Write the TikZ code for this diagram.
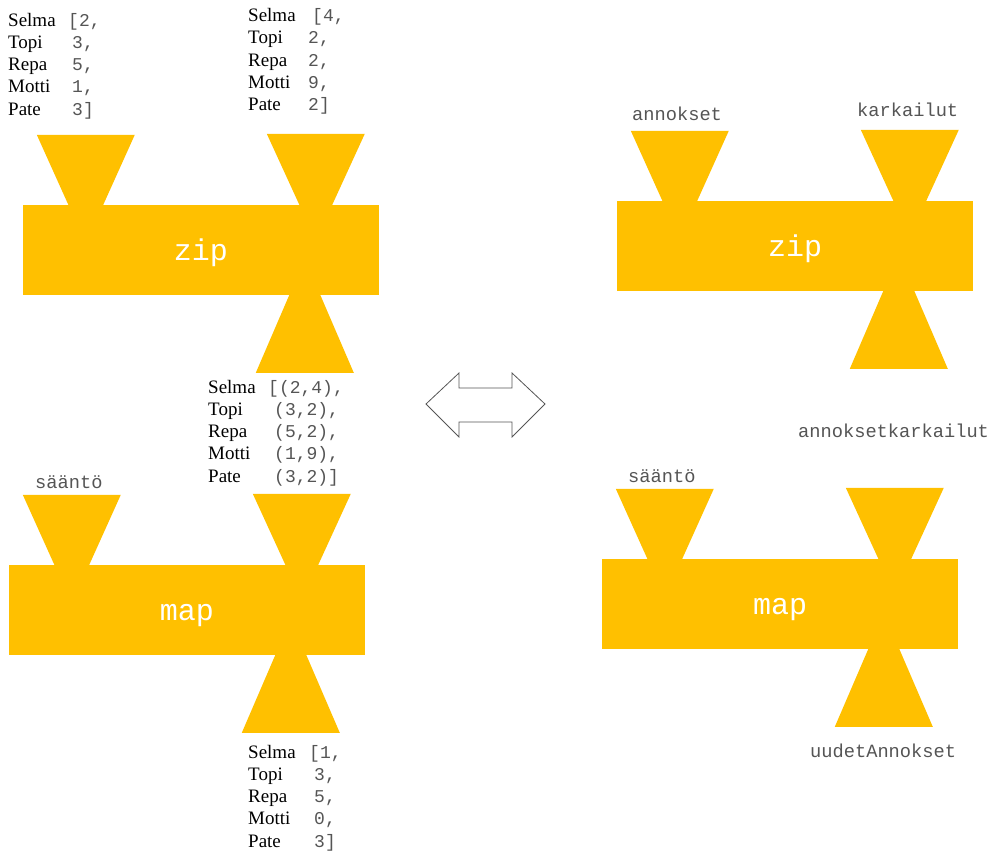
\documentclass[tikz,border=0pt]{standalone}
\usepackage{fontspec}
\setmainfont{Liberation Serif}
\setmonofont{Liberation Mono}
\definecolor{oranssi}{HTML}{FFC000}
\definecolor{harmaa}{HTML}{555555}

\tikzset{
  kone/.style={fill=oranssi, minimum width=356pt, minimum height=90pt, inner sep=0,
    text=white, font=\fontsize{30}{30}\ttfamily},
  suppilo/.style={fill=oranssi},
  nimi/.style={anchor=base west, inner sep=0, font=\fontsize{19}{22}\selectfont},
  arvo/.style={anchor=base west, inner sep=0, text=harmaa, font=\fontsize{18}{22}\ttfamily},
  tunnus/.style={anchor=base west, inner sep=0, text=harmaa, font=\fontsize{18.7}{22}\ttfamily},
}

% kaksi syottosuppiloa ylos ja yksi tulos alas
\newcommand\suppilot[1]{%
  \begin{scope}[shift={(#1.north west)}]
    \fill[suppilo] (14,-70) -- (112,-70) -- (80,1) -- (46,1) -- cycle;
    \fill[suppilo] (244,-71) -- (342,-71) -- (309,1) -- (277,1) -- cycle;
    \fill[suppilo] (267,89) -- (297,89) -- (331,168) -- (233,168) -- cycle;
  \end{scope}}

% nimet ja arvot riveittain
\newcommand\lista[6]{%
  \foreach \n/\v [count=\i from 0] in {#6}{
    \pgfmathsetmacro\vx{\i==0 ? #4 : #5}
    \node[nimi] (#1n\i) at (#2,{#3+22.3*\i}) {\n};
    \node[arvo] (#1v\i) at ({#2+\vx},{#3+22.3*\i}) {\v};
  }}

\begin{document}
\begin{tikzpicture}[x=1pt,y=-1pt]
  \useasboundingbox (0,0) rectangle (996,857);

  \foreach \kone/\x/\y/\teksti in {zipA/201/250/zip, mapA/187/610/map,
                                   zipB/795/246/zip, mapB/780/604/map}{
    \node[kone] (\kone) at (\x,\y) {\raisebox{-10pt}[0pt][0pt]{\teksti}};
    \suppilot{\kone}
  }

  \lista{a}{8}{26}{60}{64}{Selma/{[2,}, Topi/{3,}, Repa/{5,}, Motti/{1,}, Pate/{3]}}
  \lista{b}{248}{21.5}{64}{60}{Selma/{[4,}, Topi/{2,}, Repa/{2,}, Motti/{9,}, Pate/{2]}}
  \lista{c}{208}{393}{60}{66}{Selma/{[(2,4),}, Topi/{(3,2),}, Repa/{(5,2),}, Motti/{(1,9),}, Pate/{(3,2)]}}
  \lista{d}{248}{758}{61}{66}{Selma/{[1,}, Topi/{3,}, Repa/{5,}, Motti/{0,}, Pate/{3]}}

  % kaksisuuntainen nuoli
  \draw[harmaa, line width=0.8pt, fill=white, line join=miter]
    (426,404) -- (459,373) -- (459,388) -- (512,388) -- (512,373) -- (545,404)
    -- (512,437) -- (512,422) -- (459,422) -- (459,437) -- cycle;

  \node[tunnus] (saantoA) at (35,488) {sääntö};
  \node[tunnus] (annokset) at (632,120) {annokset};
  \node[tunnus] (karkailut) at (857,116) {karkailut};
  \node[tunnus] (parit) at (798,437) {annoksetkarkailut};
  \node[tunnus] (saantoB) at (628,482) {sääntö};
  \node[tunnus] (uudet) at (810,757) {uudetAnnokset};
\end{tikzpicture}
\end{document}
